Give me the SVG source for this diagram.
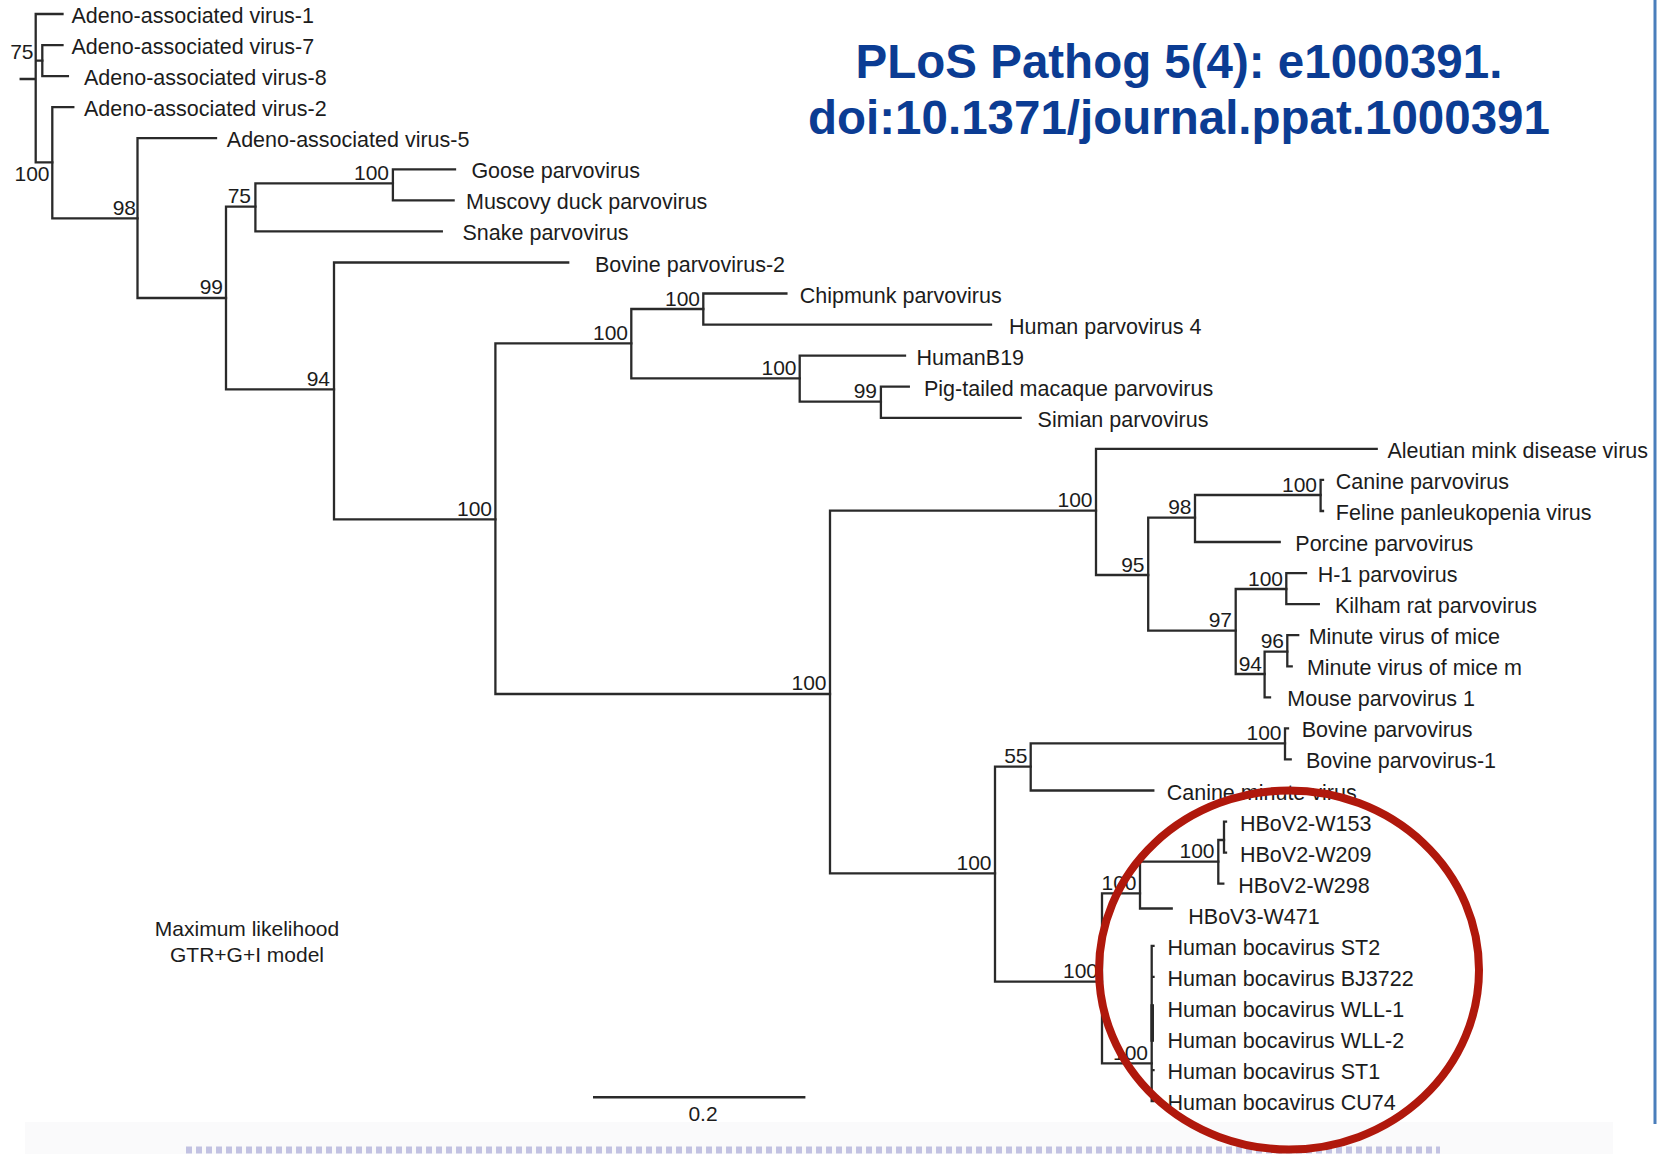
<svg xmlns="http://www.w3.org/2000/svg" width="1667" height="1154" viewBox="0 0 1667 1154">
<style>
.t{font-family:"Liberation Sans",Arial,Helvetica,sans-serif;font-size:21.5px;fill:#1c1c1c}
.b{font-family:"Liberation Sans",Arial,Helvetica,sans-serif;font-size:21px;fill:#1c1c1c;text-anchor:end}
.ln{stroke:#2a2a2a;stroke-width:2.3;fill:none;stroke-linecap:square}
.ttl{font-family:"Liberation Sans",Arial,Helvetica,sans-serif;font-size:47.5px;font-weight:bold;fill:#0b3c93;text-anchor:middle}
.note{font-family:"Liberation Sans",Arial,Helvetica,sans-serif;font-size:21px;fill:#1c1c1c;text-anchor:middle}
</style>
<rect x="0" y="0" width="1667" height="1154" fill="#ffffff"/>
<rect x="25" y="1122" width="1588" height="32" fill="#fafafb"/>
<line x1="186" y1="1150" x2="1440" y2="1150" stroke="#c2c2e2" stroke-width="7" stroke-dasharray="6 4"/>
<line x1="1655" y1="0" x2="1655" y2="1124" stroke="#4a7ebb" stroke-width="3"/>

<g id="title">
<text class="ttl" x="1179" y="78">PLoS Pathog 5(4): e1000391.</text>
<text class="ttl" x="1179" y="134">doi:10.1371/journal.ppat.1000391</text>
</g>

<g id="connectors" class="ln">
<path d="M35.7 14V162.3M35.7 14H62.5M35.7 60.6H42.3M20.7 79H35.7M35.7 162.3H52.3"/>
<path d="M42.3 45.1V76.1M42.3 45.1H62.5M42.3 76.1H67.9"/>
<path d="M52.3 107.2V218.3M52.3 107.2H73.3M52.3 218.3H137.5"/>
<path d="M137.5 138.2V298M137.5 138.2H216M137.5 298H226"/>
<path d="M226 206.7V389.3M226 206.7H255.4M226 389.3H334"/>
<path d="M255.4 183.3V231.4M255.4 183.3H392.9M255.4 231.4H441.8"/>
<path d="M392.9 169.3V200.4M392.9 169.3H455M392.9 200.4H453.6"/>
<path d="M334 262.5V519.3M334 262.5H568.2M334 519.3H495.4"/>
<path d="M495.4 343.3V694M495.4 343.3H631.3M495.4 694H830"/>
<path d="M631.3 309V378.3M631.3 309H703.3M631.3 378.3H799.7"/>
<path d="M703.3 293.5V324.6M703.3 293.5H786.4M703.3 324.6H991"/>
<path d="M799.7 355.7V401.7M799.7 355.7H905M799.7 401.7H880.9"/>
<path d="M880.9 386.7V417.8M880.9 386.7H908.8M880.9 417.8H1020.6"/>
<path d="M830 510.7V873.3M830 510.7H1096M830 873.3H995"/>
<path d="M1096 448.8V575M1096 448.8H1376.7M1096 575H1148.2"/>
<path d="M1148.2 517.7V630.7M1148.2 517.7H1195M1148.2 630.7H1235.7"/>
<path d="M1195 495V542M1195 495H1320.6M1195 542H1279.7"/>
<path d="M1320.6 479.9V511M1320.6 479.9H1323M1320.6 511H1323"/>
<path d="M1235.7 589V674M1235.7 589H1286.3M1235.7 674H1264.6"/>
<path d="M1286.3 573.1V604.1M1286.3 573.1H1306M1286.3 604.1H1318.8"/>
<path d="M1264.6 651.7V697.3M1264.6 651.7H1287.3M1264.6 697.3H1270"/>
<path d="M1287.3 635.2V666.3M1287.3 635.2H1298.2M1287.3 666.3H1291.7"/>
<path d="M995 766.7V981.7M995 766.7H1030.7M995 981.7H1102"/>
<path d="M1030.7 743.3V790.5M1030.7 743.3H1285M1030.7 790.5H1153.3"/>
<path d="M1285 728.4V759.4M1285 728.4H1288M1285 759.4H1290.7"/>
<path d="M1102 893.3V1063.3M1102 893.3H1140M1102 1063.3H1151.7"/>
<path d="M1140 861.7V908.5M1140 861.7H1218.3M1140 908.5H1171.7"/>
<path d="M1218.3 840V883.7M1218.3 840H1224M1218.3 883.7H1223.3"/>
<path d="M1224 821.6V852.6M1224 821.6H1226M1224 852.6H1226"/>
<path d="M1151.7 945.8V1101.1M1151.7 945.8H1153.5M1151.7 976.9H1153.5M1151.7 1070.1H1153.5M1151.7 1101.1H1153.5"/>
<path d="M1152.2 1006V1040" stroke-width="3.6"/>
</g>

<g id="leaves" class="t">
<g id="leaf-aav1"><text x="71.4" y="23">Adeno-associated virus-1</text></g>
<g id="leaf-aav7"><text x="71.5" y="54.1">Adeno-associated virus-7</text></g>
<g id="leaf-aav8"><text x="84" y="85.1">Adeno-associated virus-8</text></g>
<g id="leaf-aav2"><text x="84" y="116.2">Adeno-associated virus-2</text></g>
<g id="leaf-aav5"><text x="226.8" y="147.2">Adeno-associated virus-5</text></g>
<g id="leaf-goose"><text x="471.4" y="178.3">Goose parvovirus</text></g>
<g id="leaf-muscovy"><text x="466" y="209.4">Muscovy duck parvovirus</text></g>
<g id="leaf-snake"><text x="462.5" y="240.4">Snake parvovirus</text></g>
<g id="leaf-bpv2"><text x="595" y="271.5">Bovine parvovirus-2</text></g>
<g id="leaf-chipmunk"><text x="799.7" y="302.5">Chipmunk parvovirus</text></g>
<g id="leaf-hpv4"><text x="1009" y="333.6">Human parvovirus 4</text></g>
<g id="leaf-b19"><text x="916.5" y="364.7">HumanB19</text></g>
<g id="leaf-pigtailed"><text x="924" y="395.7">Pig-tailed macaque parvovirus</text></g>
<g id="leaf-simian"><text x="1037.6" y="426.8">Simian parvovirus</text></g>
<g id="leaf-aleutian"><text x="1387.5" y="457.8">Aleutian mink disease virus</text></g>
<g id="leaf-canine"><text x="1335.8" y="488.9">Canine parvovirus</text></g>
<g id="leaf-feline"><text x="1335.8" y="520">Feline panleukopenia virus</text></g>
<g id="leaf-porcine"><text x="1295.3" y="551">Porcine parvovirus</text></g>
<g id="leaf-h1"><text x="1317.7" y="582.1">H-1 parvovirus</text></g>
<g id="leaf-kilham"><text x="1335" y="613.1">Kilham rat parvovirus</text></g>
<g id="leaf-mvm"><text x="1308.7" y="644.2">Minute virus of mice</text></g>
<g id="leaf-mvmm"><text x="1306.9" y="675.3">Minute virus of mice m</text></g>
<g id="leaf-mpv1"><text x="1287.3" y="706.3">Mouse parvovirus 1</text></g>
<g id="leaf-bpv"><text x="1301.7" y="737.4">Bovine parvovirus</text></g>
<g id="leaf-bpv1"><text x="1306" y="768.4">Bovine parvovirus-1</text></g>
<g id="leaf-cmv"><text x="1166.7" y="799.5">Canine minute virus</text></g>
<g id="leaf-w153"><text x="1240" y="830.6">HBoV2-W153</text></g>
<g id="leaf-w209"><text x="1240" y="861.6">HBoV2-W209</text></g>
<g id="leaf-w298"><text x="1238.3" y="892.7">HBoV2-W298</text></g>
<g id="leaf-w471"><text x="1188.3" y="923.7">HBoV3-W471</text></g>
<g id="leaf-st2"><text x="1167.5" y="954.8">Human bocavirus ST2</text></g>
<g id="leaf-bj3722"><text x="1167.5" y="985.9">Human bocavirus BJ3722</text></g>
<g id="leaf-wll1"><text x="1167.5" y="1016.9">Human bocavirus WLL-1</text></g>
<g id="leaf-wll2"><text x="1167.5" y="1048">Human bocavirus WLL-2</text></g>
<g id="leaf-st1"><text x="1167.5" y="1079.1">Human bocavirus ST1</text></g>
<g id="leaf-cu74"><text x="1167.5" y="1110.1">Human bocavirus CU74</text></g>
</g>

<g id="bootstrap" class="b">
<text x="33.5" y="59">75</text>
<text x="49.5" y="181">100</text>
<text x="136" y="214.5">98</text>
<text x="223" y="293.5">99</text>
<text x="251" y="203">75</text>
<text x="389" y="180">100</text>
<text x="330" y="385.5">94</text>
<text x="492" y="515.5">100</text>
<text x="628" y="339.5">100</text>
<text x="700" y="305.5">100</text>
<text x="796.5" y="374.5">100</text>
<text x="877" y="397.5">99</text>
<text x="826.5" y="690">100</text>
<text x="1092.5" y="507">100</text>
<text x="1144.5" y="571.5">95</text>
<text x="1191.5" y="514">98</text>
<text x="1317" y="491.5">100</text>
<text x="1232" y="627">97</text>
<text x="1283" y="585.5">100</text>
<text x="1262" y="670.5">94</text>
<text x="1284" y="648">96</text>
<text x="991.5" y="869.5">100</text>
<text x="1027.5" y="763">55</text>
<text x="1281.5" y="739.5">100</text>
<text x="1098" y="978">100</text>
<text x="1136.5" y="889.5">100</text>
<text x="1214.5" y="858">100</text>
<text x="1148" y="1059.5">100</text>
</g>

<g id="method-note">
<text class="note" x="247" y="936">Maximum likelihood</text>
<text class="note" x="247" y="962">GTR+G+I model</text>
</g>

<g id="scale-bar">
<line x1="593" y1="1097.3" x2="805.4" y2="1097.3" stroke="#2a2a2a" stroke-width="2.6"/>
<text class="note" x="703" y="1121">0.2</text>
</g>

<g id="highlight-circle">
<ellipse cx="1289" cy="970" rx="190" ry="179.5" fill="none" stroke="#b0180c" stroke-width="8"/>
</g>
</svg>
